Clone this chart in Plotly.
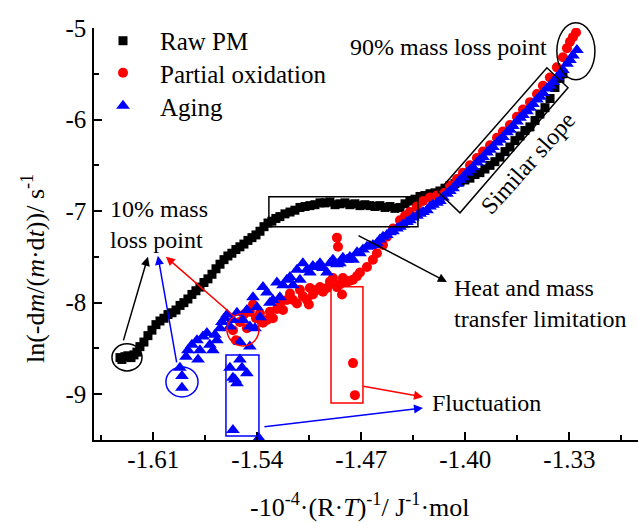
import plotly.graph_objects as go

# ---------------- data ----------------
raw_x = [-1.6324, -1.6311, -1.6291, -1.6271, -1.6250, -1.6230, -1.6210, -1.6190, -1.6163, -1.6136,
         -1.6109, -1.6082, -1.6055, -1.6028, -1.6001, -1.5974, -1.5947, -1.5920, -1.5894, -1.5867,
         -1.5840, -1.5813, -1.5786, -1.5759, -1.5732, -1.5705, -1.5678, -1.5651, -1.5624, -1.5598,
         -1.5571, -1.5544, -1.5517, -1.5490, -1.5463, -1.5436, -1.5409, -1.5382, -1.5355, -1.5328,
         -1.5302, -1.5275, -1.5248, -1.5214, -1.5180, -1.5147, -1.5113, -1.5079, -1.5046, -1.5012,
         -1.4978, -1.4945, -1.4911, -1.4877, -1.4844, -1.4810, -1.4777, -1.4743, -1.4709, -1.4676,
         -1.4642, -1.4608, -1.4575, -1.4541, -1.4507, -1.4474, -1.4440, -1.4406, -1.4373, -1.4339,
         -1.4305, -1.4272, -1.4238, -1.4204, -1.4171, -1.4137, -1.4103, -1.4070, -1.4036, -1.4003,
         -1.3969, -1.3935, -1.3902, -1.3868, -1.3834, -1.3801, -1.3767, -1.3733, -1.3700, -1.3666,
         -1.3632, -1.3599, -1.3565, -1.3531, -1.3498, -1.3464, -1.3430, -1.3397, -1.3363, -1.3343]
raw_y = [-8.60, -8.62, -8.59, -8.58, -8.60, -8.57, -8.54, -8.48, -8.43, -8.36,
         -8.30, -8.24, -8.20, -8.17, -8.13, -8.11, -8.08, -8.03, -8.00, -7.96,
         -7.91, -7.87, -7.83, -7.78, -7.74, -7.69, -7.63, -7.58, -7.53, -7.49,
         -7.46, -7.42, -7.39, -7.36, -7.32, -7.29, -7.26, -7.22, -7.17, -7.13,
         -7.11, -7.08, -7.06, -7.03, -7.01, -6.99, -6.96, -6.95, -6.94, -6.93,
         -6.91, -6.91, -6.90, -6.93, -6.92, -6.91, -6.93, -6.92, -6.94, -6.93,
         -6.94, -6.95, -6.94, -6.96, -6.95, -6.97, -6.96, -6.92, -6.89, -6.87,
         -6.84, -6.83, -6.81, -6.80, -6.78, -6.75, -6.72, -6.70, -6.68, -6.66,
         -6.64, -6.60, -6.58, -6.54, -6.50, -6.46, -6.41, -6.35, -6.30, -6.23,
         -6.18, -6.12, -6.08, -6.01, -5.94, -5.87, -5.77, -5.65, -5.55, -5.50]

po_x = [-1.5564, -1.5544, -1.5517, -1.5490, -1.5470, -1.5450, -1.5429, -1.5409, -1.5382, -1.5362,
        -1.5335, -1.5315, -1.5295, -1.5268, -1.5248, -1.5227, -1.5201, -1.5180, -1.5160, -1.5133,
        -1.5113, -1.5093, -1.5066, -1.5053, -1.5046, -1.5026, -1.4999, -1.4978, -1.4958, -1.4931,
        -1.4911, -1.4891, -1.4864, -1.4864, -1.4857, -1.4844, -1.4830, -1.4824, -1.4797, -1.4777,
        -1.4756, -1.4756, -1.4743, -1.4729, -1.4709, -1.4662, -1.4622, -1.4595, -1.4554, -1.4528,
        -1.4487, -1.4440, -1.4406, -1.4373, -1.4326, -1.4285, -1.4238, -1.4191, -1.4151, -1.4104,
        -1.4056, -1.4016, -1.3969, -1.3922, -1.3881, -1.3834, -1.3787, -1.3747, -1.3700, -1.3653,
        -1.3612, -1.3565, -1.3518, -1.3478, -1.3431, -1.3384, -1.3343, -1.3316, -1.3296, -1.3276,
        -1.3255]
po_y = [-8.30, -8.41, -8.21, -8.13, -8.28, -8.10, -8.02, -8.17, -8.12, -8.22,
        -8.19, -8.10, -8.17, -8.07, -8.02, -8.08, -7.97, -7.90, -7.97, -8.01,
        -7.86, -7.93, -7.97, -8.02, -7.84, -7.91, -7.86, -7.83, -7.88, -7.84,
        -7.77, -7.73, -7.83, -7.29, -7.39, -7.80, -7.91, -7.73, -7.77, -7.76,
        -7.75, -8.66, -9.01, -7.71, -7.67, -7.61, -7.53, -7.46, -7.37, -7.28,
        -7.19, -7.10, -7.05, -7.01, -6.95, -6.89, -6.85, -6.83, -6.80, -6.72,
        -6.65, -6.58, -6.50, -6.42, -6.35, -6.28, -6.20, -6.13, -6.06, -5.97,
        -5.89, -5.81, -5.72, -5.63, -5.54, -5.43, -5.32, -5.22, -5.15, -5.10,
        -5.05]

ag_x = [-1.5921, -1.5907, -1.5907, -1.5880, -1.5867, -1.5840, -1.5806, -1.5799, -1.5786, -1.5766,
        -1.5739, -1.5719, -1.5699, -1.5685, -1.5672, -1.5651, -1.5638, -1.5618, -1.5604, -1.5584,
        -1.5564, -1.5537, -1.5517, -1.5497, -1.5470, -1.5450, -1.5450, -1.5429, -1.5416, -1.5402,
        -1.5382, -1.5362, -1.5335, -1.5315, -1.5295, -1.5268, -1.5248, -1.5227, -1.5201, -1.5180,
        -1.5160, -1.5133, -1.5113, -1.5093, -1.5066, -1.5046, -1.5026, -1.4999, -1.4978, -1.4958,
        -1.4931, -1.4911, -1.4891, -1.4864, -1.4844, -1.4824, -1.4797, -1.4777, -1.4756, -1.4729,
        -1.4709, -1.4689, -1.4662, -1.4642, -1.4622, -1.4595, -1.4575, -1.4554, -1.4528, -1.4507,
        -1.4487, -1.4460, -1.4440, -1.4420, -1.4393, -1.4373, -1.4353, -1.4326, -1.4305, -1.4285,
        -1.4258, -1.4238, -1.4218, -1.4191, -1.4171, -1.4151, -1.4124, -1.4104, -1.4083, -1.4056,
        -1.4036, -1.4016, -1.3989, -1.3969, -1.3949, -1.3922, -1.3902, -1.3881, -1.3855, -1.3834,
        -1.3814, -1.3787, -1.3767, -1.3747, -1.3720, -1.3700, -1.3680, -1.3653, -1.3632, -1.3612,
        -1.3585, -1.3565, -1.3545, -1.3518, -1.3498, -1.3478, -1.3451, -1.3431, -1.3410, -1.3384,
        -1.3363, -1.3343, -1.3316, -1.3296, -1.3276, -1.3249,
        -1.5584, -1.5564, -1.5537, -1.5517, -1.5470, -1.5503, -1.5550, -1.5564, -1.5389]
ag_y = [-8.71, -8.80, -8.93, -8.59, -8.52, -8.46, -8.41, -8.62, -8.52, -8.37,
        -8.33, -8.46, -8.52, -8.35, -8.41, -8.28, -8.21, -8.17, -8.13, -8.26,
        -8.19, -8.11, -8.43, -8.19, -8.08, -8.26, -8.48, -7.94, -8.28, -8.05,
        -8.16, -7.83, -7.89, -8.00, -7.97, -7.78, -7.94, -7.81, -7.75, -7.72,
        -7.81, -7.64, -7.75, -7.57, -7.64, -7.67, -7.60, -7.61, -7.57, -7.62,
        -7.67, -7.57, -7.53, -7.58, -7.57, -7.51, -7.53, -7.50, -7.53, -7.45,
        -7.46, -7.42, -7.39, -7.38, -7.37, -7.35, -7.31, -7.28, -7.26, -7.23,
        -7.22, -7.19, -7.17, -7.15, -7.12, -7.10, -7.07, -7.05, -7.03, -7.01,
        -6.99, -6.95, -6.93, -6.91, -6.89, -6.85, -6.81, -6.78, -6.75, -6.70,
        -6.66, -6.63, -6.58, -6.55, -6.52, -6.47, -6.44, -6.41, -6.36, -6.33,
        -6.30, -6.25, -6.22, -6.19, -6.14, -6.11, -6.07, -6.02, -5.98, -5.95,
        -5.91, -5.87, -5.83, -5.78, -5.75, -5.71, -5.66, -5.63, -5.59, -5.54,
        -5.50, -5.46, -5.39, -5.35, -5.30, -5.24,
        -8.71, -8.82, -8.88, -8.62, -8.77, -8.71, -8.84, -9.39, -9.48]

x_tickvals = [-1.61, -1.54, -1.47, -1.40, -1.33]
x_ticktext = ["-1.61", "-1.54", "-1.47", "-1.40", "-1.33"]
y_tickvals = [-5, -6, -7, -8, -9]
y_ticktext = ["-5", "-6", "-7", "-8", "-9"]

XR = [-1.6499, -1.2838]
YR = [-9.5, -5.0]

FONT = "Times New Roman, Liberation Serif, DejaVu Serif, serif"

fig = go.Figure()
fig.add_trace(go.Scatter(x=raw_x, y=raw_y, mode="markers", name="Raw PM", legend="legend",
                         marker=dict(symbol="square", size=9, color="#000000")))
fig.add_trace(go.Scatter(x=po_x, y=po_y, mode="markers", name="Partial oxidation", legend="legend2",
                         marker=dict(symbol="circle", size=10, color="#FF0000")))
fig.add_trace(go.Scatter(x=ag_x, y=ag_y, mode="markers", name="Aging", legend="legend3",
                         marker=dict(symbol="triangle-up", size=12, color="#0000FF")))


def px_(x):
    return (x - XR[0]) / (XR[1] - XR[0])


def py_(y):
    return (y - YR[0]) / (YR[1] - YR[0])


shapes = []
shapes.append(dict(type="circle", xref="x", yref="y", x0=-1.6378, x1=-1.6176, y0=-8.450, y1=-8.745,
                   line=dict(color="black", width=1.5)))
shapes.append(dict(type="circle", xref="x", yref="y", x0=-1.6015, x1=-1.5799, y0=-8.702, y1=-9.029,
                   line=dict(color="#0000FF", width=1.5)))
shapes.append(dict(type="circle", xref="x", yref="y", x0=-1.5604, x1=-1.5389, y0=-8.122, y1=-8.472,
                   line=dict(color="#FF0000", width=1.5)))
shapes.append(dict(type="circle", xref="paper", yref="paper", x0=px_(-1.3384), x1=px_(-1.3128),
                   y0=py_(-4.942), y1=py_(-5.565), line=dict(color="black", width=1.5)))
shapes.append(dict(type="rect", xref="x", yref="y", x0=-1.5322, x1=-1.4319, y0=-6.844, y1=-7.172,
                   line=dict(color="black", width=1.5)))
shapes.append(dict(type="rect", xref="x", yref="y", x0=-1.4904, x1=-1.4689, y0=-7.827, y1=-9.095,
                   line=dict(color="#FF0000", width=1.5)))
shapes.append(dict(type="rect", xref="x", yref="y", x0=-1.5611, x1=-1.5389, y0=-8.571, y1=-9.456,
                   line=dict(color="#0000FF", width=1.5)))
shapes.append(dict(type="path", xref="x", yref="y",
                   path="M -1.4184,-6.789 L -1.3451,-5.434 L -1.3309,-5.652 L -1.4036,-7.019 Z",
                   line=dict(color="black", width=1.5)))

annotations = []


def arrow(x, y, ax, ay, color):
    annotations.append(dict(x=x, y=y, ax=ax, ay=ay, xref="x", yref="y", axref="x", ayref="y",
                            text="", showarrow=True, arrowhead=2, arrowsize=1.2, arrowwidth=1.5,
                            arrowcolor=color))


arrow(-1.6136, -7.499, -1.6304, -8.428, "black")
arrow(-1.6069, -7.488, -1.5941, -8.669, "#0000FF")
arrow(-1.6015, -7.499, -1.5544, -8.166, "#FF0000")
arrow(-1.4124, -7.773, -1.4729, -7.259, "black")
arrow(-1.4285, -9.029, -1.4696, -8.909, "#FF0000")
arrow(-1.4285, -9.150, -1.5362, -9.357, "#0000FF")

TF = dict(family=FONT, size=24, color="black")
annotations.append(dict(x=-1.6405, y=-7.150, xref="x", yref="y", text="10% mass<br>loss point",
                        showarrow=False, xanchor="left", yanchor="middle", align="left", font=TF))
annotations.append(dict(x=-1.4110, y=-5.204, xref="x", yref="y", text="90% mass loss point",
                        showarrow=False, xanchor="center", yanchor="middle", font=TF))
annotations.append(dict(x=-1.3579, y=-6.472, xref="x", yref="y", text="Similar slope",
                        showarrow=False, xanchor="center", yanchor="middle", textangle=-48, font=TF))
annotations.append(dict(x=-1.4090, y=-8.013, xref="x", yref="y",
                        text="Heat and mass<br>transfer limitation",
                        showarrow=False, xanchor="left", yanchor="middle", align="left", font=TF))
annotations.append(dict(x=-1.4238, y=-9.095, xref="x", yref="y", text="Fluctuation",
                        showarrow=False, xanchor="left", yanchor="middle", font=TF))
annotations.append(dict(x=-0.1121, y=0.415, xref="paper", yref="paper",
                        text="ln(-d<i>m</i>/(<i>m</i>·d<i>t</i>))/ s<sup>-1</sup>",
                        showarrow=False, textangle=-90, xanchor="center", yanchor="middle",
                        font=dict(family=FONT, size=26, color="black")))
annotations.append(dict(x=0.489, y=-0.160, xref="paper", yref="paper",
                        text="-10<sup>-4</sup>·(R·<i>T</i>)<sup>-1</sup>/ J<sup>-1</sup>·mol",
                        showarrow=False, xanchor="center", yanchor="middle",
                        font=dict(family=FONT, size=26, color="black")))

LEG = dict(xanchor="left", yanchor="top", bgcolor="rgba(0,0,0,0)",
           font=dict(family=FONT, size=25, color="black"), itemwidth=64)

fig.update_layout(
    width=638, height=523,
    margin=dict(l=94, r=0, t=28, b=83, autoexpand=False),
    paper_bgcolor="white", plot_bgcolor="white",
    font=dict(family=FONT, size=25, color="black"),
    showlegend=True,
    legend=dict(x=-0.0147, y=1.0243, **LEG),
    legend2=dict(x=-0.0147, y=0.9466, **LEG),
    legend3=dict(x=-0.0147, y=0.8665, **LEG),
    shapes=shapes, annotations=annotations,
    xaxis=dict(range=XR, showline=True, linecolor="black", linewidth=1.5, mirror=False,
               showgrid=False, zeroline=False, tickmode="array", tickvals=x_tickvals,
               ticktext=x_ticktext, ticks="inside", ticklen=8, tickwidth=1.5, tickcolor="black",
               tickfont=dict(family=FONT, size=25, color="black"), ticklabelstandoff=-4,
               automargin=False,
               minor=dict(tickvals=[-1.645, -1.575, -1.505, -1.435, -1.365, -1.295],
                          ticks="inside", ticklen=5, tickwidth=1.5, tickcolor="black")),
    yaxis=dict(range=YR, showline=True, linecolor="black", linewidth=1.5, mirror=False,
               showgrid=False, zeroline=False, tickmode="array", tickvals=y_tickvals,
               ticktext=y_ticktext, ticks="inside", ticklen=8, tickwidth=1.5, tickcolor="black",
               tickfont=dict(family=FONT, size=25, color="black"), ticklabelstandoff=1,
               automargin=False,
               minor=dict(tickvals=[-5.5, -6.5, -7.5, -8.5],
                          ticks="inside", ticklen=5, tickwidth=1.5, tickcolor="black")),
)

fig.write_html("out.html", config={"displayModeBar": False},
               post_script="document.body.style.margin='0';document.body.style.padding='0';")
